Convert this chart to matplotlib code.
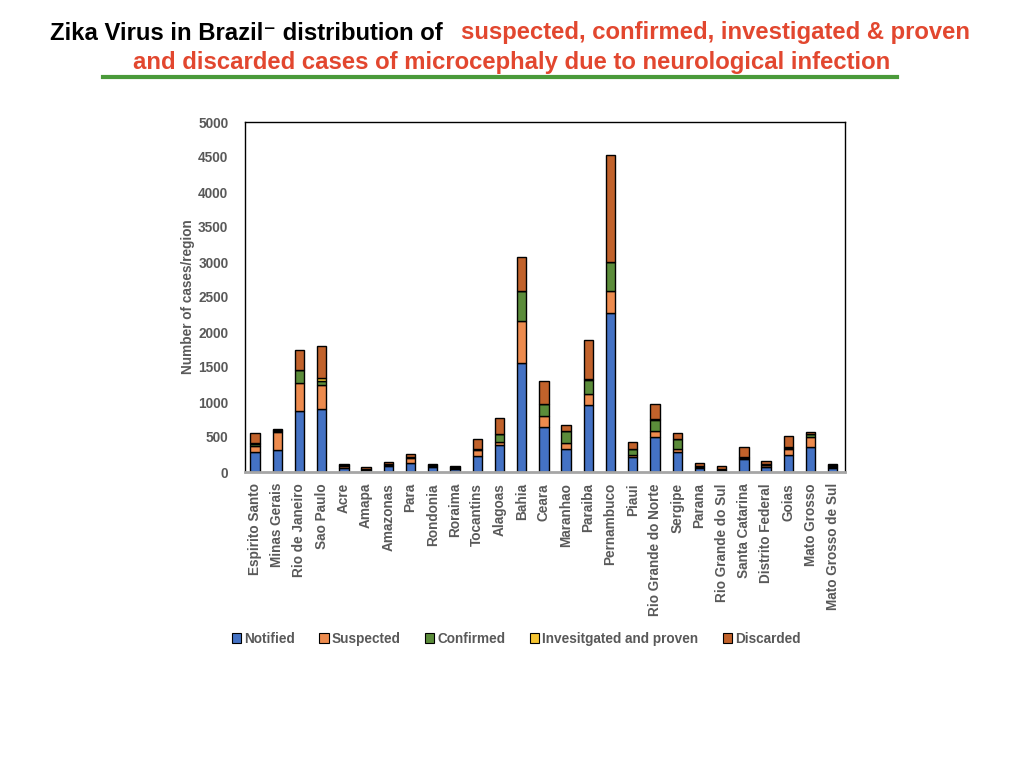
import numpy as np
import matplotlib
matplotlib.use("Agg")
import matplotlib.pyplot as plt
from matplotlib.patches import Patch

plt.rcParams["font.family"] = ["Liberation Sans", "DejaVu Sans"]

regions = [
    "Espirito Santo", "Minas Gerais", "Rio de Janeiro", "Sao Paulo", "Acre",
    "Amapa", "Amazonas", "Para", "Rondonia", "Roraima", "Tocantins", "Alagoas",
    "Bahia", "Ceara", "Maranhao", "Paraiba", "Pernambuco", "Piaui",
    "Rio Grande do Norte", "Sergipe", "Parana", "Rio Grande do Sul",
    "Santa Catarina", "Distrito Federal", "Goias", "Mato Grosso",
    "Mato Grosso de Sul",
]

notified = [280, 315, 867, 896, 60, 25, 80, 125, 70, 50, 229, 381,
            1553, 648, 329, 952, 2267, 210, 495, 281, 55, 25,
            190, 70, 245, 360, 55]
suspected = [95, 260, 400, 352, 25, 10, 15, 75, 10, 10, 85, 47,
             600, 152, 85, 162, 315, 33, 95, 43, 15, 10,
             10, 30, 80, 135, 10]
confirmed = [25, 15, 185, 57, 5, 10, 20, 15, 10, 5, 15, 110,
             429, 167, 172, 205, 420, 86, 158, 143, 5, 5,
             10, 5, 25, 45, 20]
investigated = [10, 5, 5, 43, 5, 5, 5, 5, 5, 5, 4, 3,
                5, 3, 3, 3, 5, 3, 3, 3, 5, 5,
                5, 5, 10, 10, 10]
discarded = [145, 25, 285, 457, 25, 15, 30, 35, 15, 15, 138, 226,
             490, 330, 82, 564, 1523, 92, 220, 83, 55, 40,
             137, 45, 150, 20, 15]

series = [
    ("Notified", notified, "#4472C4"),
    ("Suspected", suspected, "#ED8B4E"),
    ("Confirmed", confirmed, "#5B8C3A"),
    ("Invesitgated and proven", investigated, "#F5C431"),
    ("Discarded", discarded, "#C1622B"),
]

grey = "#595959"
red = "#E2472F"

fig = plt.figure(figsize=(10.24, 7.68), dpi=100)
ax = fig.add_axes([245 / 1024, 1 - 472 / 768, 600 / 1024, 350 / 768])

x = np.arange(len(regions))
bottom = np.zeros(len(regions))
for name, vals, col in series:
    vals = np.array(vals, dtype=float)
    ax.bar(x, vals, 0.42, bottom=bottom, color=col, edgecolor="black",
           linewidth=1.0, label=name)
    bottom += vals

ax.set_xlim(-0.45, len(regions) - 0.45)
ax.set_ylim(0, 5000)
ax.set_yticks(range(0, 5001, 500))
ax.set_xticks(x)
ax.set_xticklabels(regions, rotation=90)
ax.tick_params(axis="both", length=0, labelsize=9.8, labelcolor=grey)
ax.tick_params(axis="y", pad=12)
ax.tick_params(axis="x", pad=8)
for lab in ax.get_xticklabels() + ax.get_yticklabels():
    lab.set_fontweight("bold")
ax.set_ylabel("Number of cases/region", fontsize=9.8, color=grey,
              fontweight="bold", labelpad=0)
ax.yaxis.set_label_coords(-0.083, 0.5)

for side in ["top", "right", "left"]:
    ax.spines[side].set_color("black")
    ax.spines[side].set_linewidth(1.0)
ax.spines["bottom"].set_color("#A6A6A6")
ax.spines["bottom"].set_linewidth(2.0)

handles = [Patch(facecolor=c, edgecolor="black", linewidth=0.8) for _, _, c in series]
fig.legend(handles, [n for n, _, _ in series], loc="center",
           bbox_to_anchor=(516 / 1024, 1 - 639 / 768), ncol=5, frameon=False,
           handlelength=0.7, handleheight=0.7, handletextpad=0.2,
           columnspacing=1.8,
           prop={"size": 9.8, "weight": "bold"}, labelcolor=grey)

# title in two colours
fig.text(50 / 1024, 1 - 33 / 768, "Zika Virus in Brazil\u207b distribution of",
         fontsize=17.2, fontweight="bold", color="black", ha="left", va="center")
fig.text(461 / 1024, 1 - 33 / 768, "suspected, confirmed, investigated & proven",
         fontsize=17.2, fontweight="bold", color=red, ha="left", va="center")
fig.text(512 / 1024, 1 - 63 / 768,
         "and discarded cases of microcephaly due to neurological infection",
         fontsize=17.2, fontweight="bold", color=red, ha="center", va="center")
fig.add_artist(plt.Line2D([103 / 1024, 897 / 1024], [1 - 77 / 768, 1 - 77 / 768],
                          color="#4A9A3A", linewidth=3, transform=fig.transFigure))

fig.savefig("out.png", dpi=100, facecolor="white")
